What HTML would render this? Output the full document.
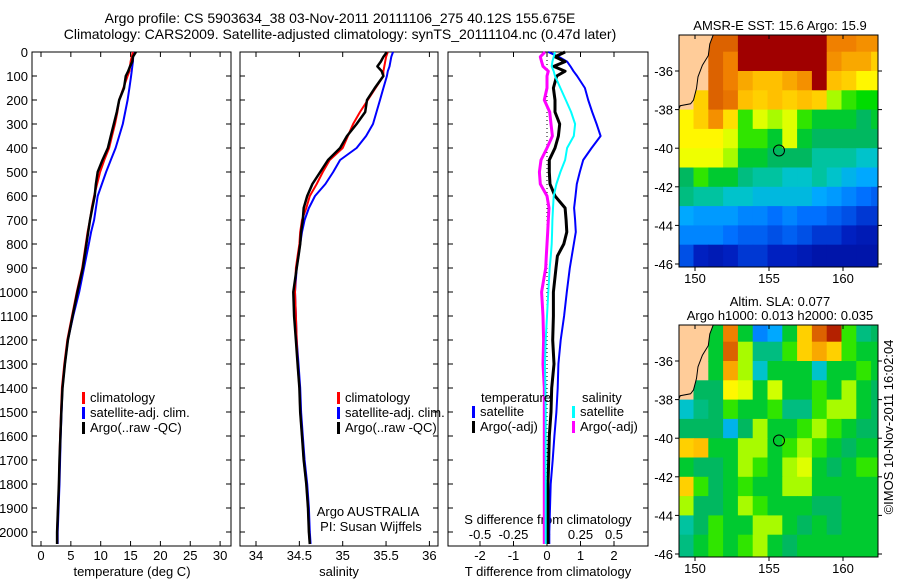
<!DOCTYPE html>
<html><head><meta charset="utf-8">
<style>
html,body{margin:0;padding:0;background:#fff;}
svg{display:block;font-family:"Liberation Sans",sans-serif;}
text{font-size:13px;fill:#000;}
</style></head>
<body>
<svg id="fig" width="900" height="580" viewBox="0 0 900 580" xmlns="http://www.w3.org/2000/svg">
<text x="340" y="23" text-anchor="middle" style="font-size:14px">Argo profile: CS 5903634_38 03-Nov-2011 20111106_275 40.12S 155.675E</text>
<text x="340" y="39" text-anchor="middle" style="font-size:14px">Climatology: CARS2009. Satellite-adjusted climatology: synTS_20111104.nc (0.47d later)</text>
<g id="g"></g>
</svg>
<script>
// ---- profile data ----
const depths = [0,20,40,60,80,100,150,200,250,300,350,400,450,500,550,600,650,700,750,800,850,900,1000,1100,1200,1300,1400,1500,1600,1700,1800,1900,2000,2050];
const tempClim = [15.4,15.2,15.0,14.9,14.8,14.5,13.8,13.1,12.8,12.4,11.9,11.4,10.6,9.9,9.4,8.9,8.5,8.2,7.8,7.5,7.2,6.9,6.0,5.2,4.4,3.9,3.5,3.35,3.2,3.1,3.0,2.85,2.7,2.7];
const tempSat = [15.5,15.45,15.4,15.3,15.2,15.1,14.8,14.5,14.1,13.7,13.1,12.5,11.7,10.9,10.2,9.5,9.2,8.9,8.4,8.0,7.6,7.2,6.4,5.4,4.5,4.0,3.6,3.45,3.3,3.2,3.1,2.95,2.8,2.8];
const tempArgo = [15.9,15.4,15.3,14.9,14.6,14.2,13.9,13.1,12.7,12.2,11.7,11.2,10.3,9.5,9.2,9.0,8.6,8.2,7.9,7.6,7.3,7.0,6.1,5.3,4.5,4.0,3.6,3.4,3.25,3.1,3.0,2.85,2.7,2.7];
const salClim = [35.52,35.5,35.49,35.48,35.47,35.47,35.38,35.29,35.2,35.12,35.06,35.0,34.85,34.77,34.7,34.62,34.58,34.53,34.51,34.5,34.48,34.46,34.45,34.46,34.47,34.48,34.5,34.51,34.53,34.55,34.58,34.6,34.61,34.62];
const salSat = [35.58,35.56,35.55,35.54,35.52,35.51,35.47,35.43,35.39,35.35,35.27,35.16,34.97,34.89,34.8,34.68,34.61,34.56,34.53,34.51,34.49,34.47,34.45,34.46,34.47,34.49,34.51,34.52,34.54,34.56,34.59,34.61,34.62,34.63];
const salArgo = [35.51,35.47,35.44,35.4,35.45,35.47,35.37,35.28,35.26,35.16,35.05,34.97,34.83,34.74,34.65,34.59,34.55,34.54,34.52,34.51,34.49,34.47,34.43,34.44,34.46,34.48,34.5,34.51,34.53,34.55,34.58,34.6,34.61,34.62];
const dTsat = [0.04,0.35,0.6,0.7,0.79,0.9,1.13,1.23,1.35,1.48,1.6,1.33,1.08,0.98,0.89,0.85,0.81,0.84,0.86,0.8,0.74,0.68,0.59,0.51,0.41,0.34,0.32,0.28,0.22,0.17,0.11,0.09,0.07,0.07];
const dTargo = [0.54,0.24,0.54,0.2,0.54,0.29,0.19,0.24,0.24,0.38,0.34,0.24,0.07,0.07,0.09,0.24,0.54,0.57,0.59,0.5,0.31,0.27,0.19,0.19,0.17,0.21,0.14,0.12,0.07,0.05,0.03,0.03,0.03,0.03];
const dSsat = [0.06,0.05,0.04,0.035,0.05,0.06,0.1,0.14,0.18,0.21,0.2,0.15,0.135,0.1,0.07,0.05,0.045,0.04,0.038,0.035,0.028,0.02,0.01,0.0,-0.01,-0.015,-0.012,-0.01,-0.01,-0.01,-0.01,-0.01,-0.01,-0.01];
const dSargo = [-0.015,-0.05,-0.04,-0.03,0.01,0.0,-0.0,-0.02,0.02,0.03,0.04,0.0,-0.045,-0.057,-0.05,0.0,0.015,0.01,0.005,0.0,-0.005,-0.01,-0.04,-0.03,-0.025,-0.03,-0.02,-0.02,-0.02,-0.02,-0.02,-0.02,-0.02,-0.02];
// ---- map data (1-degree cells, rows lat -34..-46, cols lon 149..162; -1 = land) ----
const mapLons = [149,150,151,152,153,154,155,156,157,158,159,160,161,162];
const mapLats = [-34,-35,-36,-37,-38,-39,-40,-41,-42,-43,-44,-45,-46];
const sstGrid = [
[-1,-1,0.85,0.85,1,1,1,1,1,1,0.8,0.8,0.78,0.78],
[-1,-1,0.85,0.8,1,1,1,1,1,1,0.78,0.75,0.75,0.7],
[-1,-1,0.85,0.8,0.75,0.72,0.72,0.75,0.78,1,0.72,0.7,0.65,0.65],
[-1,0.7,0.85,0.82,0.72,0.7,0.72,0.7,0.72,0.7,0.55,0.5,0.48,0.48],
[0.65,0.7,0.78,0.68,0.5,0.6,0.55,0.6,0.5,0.45,0.45,0.45,0.42,0.45],
[0.65,0.65,0.65,0.6,0.5,0.5,0.45,0.6,0.45,0.42,0.42,0.42,0.42,0.42],
[0.62,0.62,0.62,0.55,0.45,0.45,0.42,0.42,0.42,0.38,0.38,0.38,0.35,0.35],
[0.42,0.5,0.45,0.45,0.4,0.38,0.38,0.35,0.35,0.38,0.35,0.32,0.3,0.3],
[0.4,0.38,0.38,0.35,0.35,0.33,0.33,0.33,0.33,0.3,0.28,0.25,0.22,0.2],
[0.3,0.28,0.28,0.28,0.25,0.25,0.22,0.25,0.22,0.22,0.2,0.18,0.15,0.15],
[0.25,0.25,0.25,0.22,0.2,0.2,0.18,0.2,0.18,0.15,0.15,0.12,0.1,0.1],
[0.18,0.12,0.1,0.12,0.15,0.15,0.12,0.12,0.1,0.08,0.08,0.08,0.08,0.08],
[0.18,0.12,0.1,0.12,0.15,0.15,0.12,0.12,0.1,0.08,0.08,0.08,0.08,0.08]];
const slaGrid = [
[-1,-1,0.45,0.8,0.45,0.25,0.3,0.45,0.7,0.85,0.95,0.5,0.4,0.42],
[-1,-1,0.45,0.85,0.55,0.4,0.4,0.5,0.7,0.75,0.7,0.5,0.45,0.45],
[-1,-1,0.45,0.75,0.55,0.35,0.45,0.45,0.45,0.35,0.45,0.45,0.5,0.45],
[-1,0.42,0.42,0.65,0.6,0.45,0.58,0.45,0.45,0.5,0.45,0.55,0.45,0.42],
[0.35,0.4,0.42,0.5,0.45,0.45,0.5,0.4,0.4,0.5,0.55,0.55,0.45,0.42],
[0.42,0.42,0.42,0.32,0.42,0.55,0.45,0.45,0.5,0.55,0.5,0.45,0.42,0.42],
[0.7,0.72,0.45,0.45,0.55,0.55,0.45,0.5,0.55,0.5,0.45,0.42,0.45,0.45],
[0.45,0.42,0.42,0.45,0.55,0.5,0.45,0.55,0.6,0.45,0.42,0.45,0.5,0.5],
[0.7,0.5,0.42,0.45,0.5,0.45,0.45,0.55,0.55,0.45,0.45,0.45,0.45,0.45],
[0.55,0.42,0.42,0.45,0.55,0.5,0.45,0.45,0.45,0.42,0.42,0.45,0.45,0.45],
[0.38,0.42,0.5,0.45,0.45,0.55,0.55,0.45,0.42,0.45,0.42,0.45,0.45,0.45],
[0.4,0.45,0.5,0.45,0.5,0.55,0.45,0.42,0.45,0.45,0.45,0.45,0.45,0.45],
[0.4,0.45,0.5,0.45,0.5,0.55,0.45,0.42,0.45,0.45,0.45,0.45,0.45,0.45]];
const depthTicks = [0,100,200,300,400,500,600,700,800,900,1000,1100,1200,1300,1400,1500,1600,1700,1800,1900,2000];
const tempTicks = [0,5,10,15,20,25,30];
const salTicks = [34,34.5,35,35.5,36];
const dTTicks = [-2,-1,0,1,2];
const dSTicks = [-0.5,-0.25,0,0.25,0.5];
const dSTickLabels = ["-0.5","-0.25","0","0.25","0.5"];
const lonTicks = [150,155,160];
const latTicks = [-36,-38,-40,-42,-44,-46];
const argoLon = 155.675, argoLat = -40.12;

const NS='http://www.w3.org/2000/svg';
const G=document.getElementById('g');
function mk(tag,attrs,parent,txt){const e=document.createElementNS(NS,tag);for(const k in attrs)e.setAttribute(k,attrs[k]);if(txt!==undefined)e.textContent=txt;(parent||G).appendChild(e);return e;}

const PT=52, PB=546;
const yD = d => PT + d*0.24;
const xTemp = t => 41 + t*5.97;
const xSal = s => 256 + (s-34)*86.7;
const xDT = t => 547 + t*33.5;
const xDS = s => 547 + s*134;
const panels=[{n:'temperature',l:32,r:231},{n:'salinity',l:240,r:438},{n:'difference',l:448,r:648}];

panels.forEach(p=>{
  const b=mk('rect',{x:p.l,y:PT,width:p.r-p.l,height:PB-PT,fill:'#fff',stroke:'#000','stroke-width':1});
  
  
  depthTicks.forEach(d=>{
    const t1=mk('line',{x1:p.l,x2:p.l+5,y1:yD(d),y2:yD(d),stroke:'#000'});
    
    
    const t2=mk('line',{x1:p.r-5,x2:p.r,y1:yD(d),y2:yD(d),stroke:'#000'});
    
    
  });
});
depthTicks.forEach(d=>{
  const t=mk('text',{x:28,y:yD(d)+5,'text-anchor':'end'},G,String(d));
  
  
});
function xticks(vals,fx,labels,ly,name){
  vals.forEach((v,i)=>{
    const x=fx(v);
    const a=mk('line',{x1:x,x2:x,y1:PT,y2:PT+5,stroke:'#000'});
    
    
    const b=mk('line',{x1:x,x2:x,y1:PB-5,y2:PB,stroke:'#000'});
    
    
    if(labels){
      const t=mk('text',{x:x,y:ly,'text-anchor':'middle'},G,labels[i]);
      
      
    }
  });
}
xticks(tempTicks,xTemp,tempTicks.map(String),560,'temperature');
xticks(salTicks,xSal,salTicks.map(String),560,'salinity');
xticks(dTTicks,xDT,dTTicks.map(String),560,'t-difference');
dSTicks.forEach((v,i)=>{
  const t=mk('text',{x:xDS(v),y:539,'text-anchor':'middle'},G,dSTickLabels[i]);
  
  
});
function lbl(x,y,s,name,anchor){const t=mk('text',{x:x,y:y,'text-anchor':anchor||'middle'},G,s);return t;}
lbl(132,576,'temperature (deg C)','temperature-axis-title');
lbl(339,576,'salinity','salinity-axis-title');
lbl(548,576,'T difference from climatology','t-difference-axis-title');
lbl(548,524,'S difference from climatology','s-difference-axis-title');
lbl(368,516,'Argo AUSTRALIA','data-centre-label');
lbl(371,531,'PI: Susan Wijffels','pi-label');

// zero dotted line
const z=mk('line',{x1:xDT(0),x2:xDT(0),y1:PT,y2:PB,stroke:'#000','stroke-dasharray':'1,3'});



function series(vals,fx,color,w,name){
  const pts=vals.map((v,i)=>fx(v).toFixed(1)+','+yD(depths[i]).toFixed(1)).join(' ');
  const l=mk('polyline',{points:pts,fill:'none',stroke:color,'stroke-width':w,'stroke-linejoin':'round'});
  
  
}
series(tempSat,xTemp,'#0000ff',2,'temperature-satellite-line');
series(tempClim,xTemp,'#ff0000',2,'temperature-climatology-line');
series(tempArgo,xTemp,'#000',2.5,'temperature-argo-line');
series(salSat,xSal,'#0000ff',2,'salinity-satellite-line');
series(salClim,xSal,'#ff0000',2,'salinity-climatology-line');
series(salArgo,xSal,'#000',2.5,'salinity-argo-line');
series(dSargo,xDS,'#ff00ff',3,'s-argo-difference-line');
series(dTsat,xDT,'#0000ff',2,'t-satellite-difference-line');
series(dTargo,xDT,'#000',3,'t-argo-difference-line');
series(dSsat,xDS,'#00ffff',2,'s-satellite-difference-line');

function legend(x,y,items,pfx){
  items.forEach((it,i)=>{
    const yy=y+i*15;
    const r=mk('rect',{x:x,y:yy-10,width:3,height:12,fill:it[1]});
    
    
    const t=mk('text',{x:x+8,y:yy},G,it[0]);
    
    
  });
}
legend(82,402,[['climatology','#ff0000'],['satellite-adj. clim.','#0000ff'],['Argo(..raw -QC)','#000']],'temperature');
legend(337,402,[['climatology','#ff0000'],['satellite-adj. clim.','#0000ff'],['Argo(..raw -QC)','#000']],'salinity');
lbl(481,402,'temperature','difference-legend-temperature-heading','start');
lbl(582,402,'salinity','difference-legend-salinity-heading','start');
legend(472,416,[['satellite','#0000ff'],['Argo(-adj)','#000']],'t-difference');
legend(572,416,[['satellite','#00ffff'],['Argo(-adj)','#ff00ff']],'s-difference');

// ---- maps ----
const stops=[[0,[0,0,127]],[0.12,[0,32,192]],[0.22,[0,112,255]],[0.3,[0,168,255]],[0.36,[0,200,192]],[0.42,[0,184,96]],[0.48,[0,220,0]],[0.56,[192,255,0]],[0.64,[255,255,0]],[0.72,[255,192,0]],[0.8,[240,128,0]],[0.88,[208,80,0]],[1,[160,0,0]]];
function cmap(v){for(let i=1;i<stops.length;i++){if(v<=stops[i][0]){const a=stops[i-1],b=stops[i];const f=(v-a[0])/(b[0]-a[0]);const c=a[1].map((q,k)=>Math.round(q+(b[1][k]-q)*f));return 'rgb('+c.join(',')+')';}}return 'rgb(160,0,0)';}
const ML=679, MR=878;
const lonX = l => 695 + (l-150)*14.8;
function drawMap(grid,top,bottom,lat36y,name,titleLines){
  const latY = la => lat36y + (-36-la)*19.3;
  const cid='clip-'+name;
  const defs=mk('defs',{});
  const cp=mk('clipPath',{id:cid},defs);
  mk('rect',{x:ML,y:top,width:MR-ML,height:bottom-top},cp);
  const g=mk('g',{'clip-path':'url(#'+cid+')'});
  
  
  mk('rect',{x:ML,y:top,width:MR-ML,height:bottom-top,fill:'#ffcc99'},g);
  grid.forEach((row,ri)=>row.forEach((v,ci)=>{
    if(v<0)return;
    const x0=lonX(mapLons[ci]-0.1),y0=latY(mapLats[ri]);
    const c=mk('rect',{x:x0.toFixed(1),y:y0.toFixed(1),width:15.3,height:19.8,fill:cmap(v)},g);
    
    
  }));
  const coast=[[148.9,-34],[151.3,-34],[151.0,-34.6],[150.9,-35.2],[150.5,-35.7],[150.2,-36.3],[150.1,-36.9],[149.9,-37.5],[149.7,-37.7],[149.0,-37.8],[148.9,-38.0],[148.5,-38],[148.5,-34]];
  const land=mk('polygon',{points:coast.map(p=>lonX(p[0]).toFixed(1)+','+latY(p[1]).toFixed(1)).join(' '),fill:'#ffcc99',stroke:'#000','stroke-width':1},g);
  
  
  const fr=mk('rect',{x:ML,y:top,width:MR-ML,height:bottom-top,fill:'none',stroke:'#000'});
  
  
  const dot=mk('circle',{cx:lonX(argoLon),cy:latY(argoLat),r:5.5,fill:'none',stroke:'#000','stroke-width':1});
  
  
  lonTicks.forEach(l=>{
    const x=lonX(l);
    const a=mk('line',{x1:x,x2:x,y1:top,y2:top+4,stroke:'#000'});
    
    
    const b=mk('line',{x1:x,x2:x,y1:bottom,y2:bottom+4,stroke:'#000'});
    
    
    lbl(x,bottom+16,String(l),name+'-lon-label');
  });
  latTicks.forEach(la=>{
    const y=latY(la);
    const a=mk('line',{x1:ML-4,x2:ML,y1:y,y2:y,stroke:'#000'});
    
    
    const b=mk('line',{x1:MR,x2:MR+4,y1:y,y2:y,stroke:'#000'});
    
    
    lbl(ML-6,y+5,String(la),name+'-lat-label','end');
  });
  titleLines.forEach((s,i)=>lbl(780,top-(titleLines.length-1-i)*14-5,s,name+'-map-title'));
}
drawMap(sstGrid,35,267,71,'sst',['AMSR-E SST: 15.6 Argo: 15.9']);
drawMap(slaGrid,325,557,361,'sla',['Altim. SLA: 0.077','Argo h1000: 0.013 h2000: 0.035']);
const cr=mk('text',{x:0,y:0,transform:'translate(893,427) rotate(-90)','text-anchor':'middle'},G,'©IMOS 10-Nov-2011 16:02:04');


</script>
</body></html>
